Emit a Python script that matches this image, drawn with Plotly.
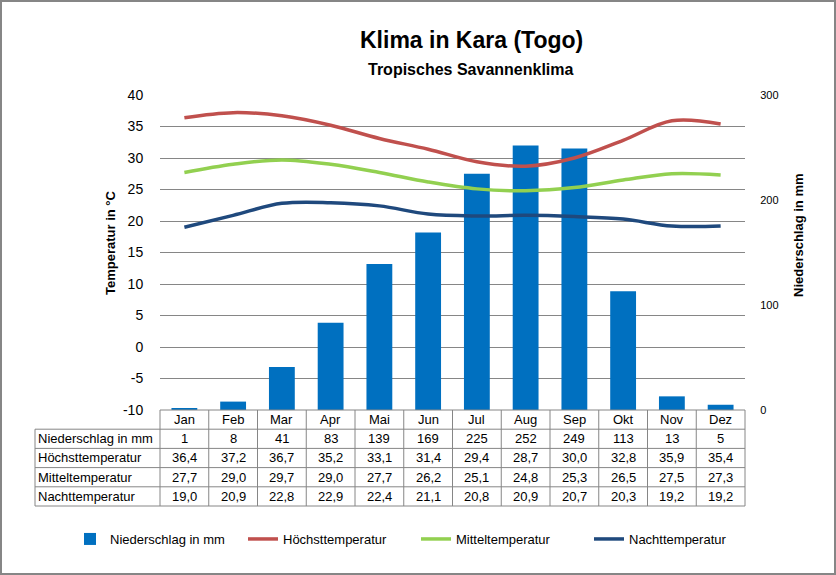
import plotly.graph_objects as go

months = ["Jan", "Feb", "Mar", "Apr", "Mai", "Jun", "Jul", "Aug", "Sep", "Okt", "Nov", "Dez"]
niederschlag = [1, 8, 41, 83, 139, 169, 225, 252, 249, 113, 13, 5]
hoechst = [36.4, 37.2, 36.7, 35.2, 33.1, 31.4, 29.4, 28.7, 30.0, 32.8, 35.9, 35.4]
mittel = [27.7, 29.0, 29.7, 29.0, 27.7, 26.2, 25.1, 24.8, 25.3, 26.5, 27.5, 27.3]
nacht = [19.0, 20.9, 22.8, 22.9, 22.4, 21.1, 20.8, 20.9, 20.7, 20.3, 19.2, 19.2]
temp_ticks = list(range(-10, 45, 5))
rain_ticks = [0, 100, 200, 300]
row_labels = ["Niederschlag in mm", "Höchsttemperatur", "Mitteltemperatur", "Nachttemperatur"]

W, H = 836, 575
ML, MR, MT, MB = 160, 91, 95, 165
PW, PH = W - ML - MR, H - MT - MB
FONT = "Liberation Sans, Arial, sans-serif"

def px_x(px):
    return (px - ML) / PW

def px_y(py):
    return (H - MB - py) / PH

def fmt(v):
    return f"{v:.1f}".replace(".", ",")

fig = go.Figure()
fig.add_trace(go.Bar(x=months, y=niederschlag, name="Niederschlag in mm",
                     marker=dict(color="#0070C0", line=dict(width=0)), width=0.53, yaxis="y"))
fig.add_trace(go.Scatter(x=months, y=hoechst, name="Höchsttemperatur", mode="lines",
                         line=dict(color="#C0504D", width=3.5, shape="spline", smoothing=1), yaxis="y2"))
fig.add_trace(go.Scatter(x=months, y=mittel, name="Mitteltemperatur", mode="lines",
                         line=dict(color="#92D050", width=3.5, shape="spline", smoothing=1), yaxis="y2"))
fig.add_trace(go.Scatter(x=months, y=nacht, name="Nachttemperatur", mode="lines",
                         line=dict(color="#1F497D", width=3.5, shape="spline", smoothing=1), yaxis="y2"))

shapes = []
gray = "#868686"
n = len(months)
row_h = 19.2
top = H - MB
shapes.append(dict(type="line", xref="paper", yref="paper", x0=0, x1=1,
                   y0=px_y(top), y1=px_y(top), line=dict(color=gray, width=1)))
for r in range(1, len(row_labels) + 2):
    yy = px_y(top + r * row_h)
    shapes.append(dict(type="line", xref="paper", yref="paper", x0=px_x(35), x1=1,
                       y0=yy, y1=yy, line=dict(color=gray, width=1)))
shapes.append(dict(type="line", xref="paper", yref="paper", x0=px_x(35), x1=px_x(35),
                   y0=px_y(top + row_h), y1=px_y(top + 5 * row_h), line=dict(color=gray, width=1)))
for i in range(n + 1):
    xx = i / n
    shapes.append(dict(type="line", xref="paper", yref="paper", x0=xx, x1=xx,
                       y0=px_y(top), y1=px_y(top + 5 * row_h), line=dict(color=gray, width=1)))
shapes.append(dict(type="rect", xref="paper", yref="paper",
                   x0=px_x(1), x1=px_x(W - 1), y0=px_y(H - 1), y1=px_y(1),
                   line=dict(color=gray, width=2)))

annotations = []
tfont = dict(family=FONT, size=13, color="black")
rows = [
    [str(v) for v in niederschlag],
    [fmt(v) for v in hoechst],
    [fmt(v) for v in mittel],
    [fmt(v) for v in nacht],
]
for i, m in enumerate(months):
    annotations.append(dict(x=m, xref="x", y=px_y(top + 0.5 * row_h), yref="paper",
                            text=m, showarrow=False, font=tfont, xanchor="center", yanchor="middle"))
    for r, vals in enumerate(rows):
        annotations.append(dict(x=m, xref="x", y=px_y(top + (r + 1.5) * row_h), yref="paper",
                                text=vals[i], showarrow=False, font=tfont, xanchor="center", yanchor="middle"))
for r, lab in enumerate(row_labels):
    annotations.append(dict(x=px_x(36), xref="paper", y=px_y(top + (r + 1.5) * row_h), yref="paper",
                            text=lab, showarrow=False, font=tfont, xanchor="left", yanchor="middle"))

annotations.append(dict(x=px_x(471), xref="paper", y=px_y(40), yref="paper",
                        text="<b>Klima in Kara (Togo)</b>", showarrow=False,
                        font=dict(family=FONT, size=23, color="black"), xanchor="center", yanchor="middle"))
annotations.append(dict(x=px_x(471), xref="paper", y=px_y(69), yref="paper",
                        text="<b>Tropisches Savannenklima</b>", showarrow=False,
                        font=dict(family=FONT, size=16, color="black"), xanchor="center", yanchor="middle"))
annotations.append(dict(x=px_x(110), xref="paper", y=px_y(243), yref="paper",
                        text="<b>Temperatur in °C</b>", showarrow=False, textangle=-90,
                        font=dict(family=FONT, size=13, color="black"), xanchor="center", yanchor="middle"))
annotations.append(dict(x=px_x(798), xref="paper", y=px_y(235), yref="paper",
                        text="<b>Niederschlag in mm</b>", showarrow=False, textangle=-90,
                        font=dict(family=FONT, size=13, color="black"), xanchor="center", yanchor="middle"))

fig.update_layout(
    width=W, height=H,
    margin=dict(l=ML, r=MR, t=MT, b=MB),
    paper_bgcolor="white", plot_bgcolor="white",
    font=dict(family=FONT, color="black"),
    showlegend=True,
    legend=dict(orientation="h", xref="paper", yref="paper",
                x=px_x(70), xanchor="left", y=px_y(539), yanchor="middle",
                font=dict(family=FONT, size=13, color="black"), traceorder="normal",
                itemwidth=30, entrywidth=128, entrywidthmode="pixels"),
    xaxis=dict(type="category", range=[-0.5, n - 0.5], showticklabels=False, showgrid=False,
               zeroline=False, showline=False, ticks=""),
    yaxis=dict(side="right", range=[0, 300], tickvals=rain_ticks, showgrid=False, zeroline=False,
               showline=False, ticks="outside", ticklen=12, tickcolor="rgba(0,0,0,0)",
               tickfont=dict(family=FONT, size=11, color="black")),
    yaxis2=dict(side="left", overlaying="y", range=[-10, 40], tickvals=temp_ticks,
                ticktext=[str(t) for t in temp_ticks], showgrid=True,
                gridcolor=gray, gridwidth=1, zeroline=False, showline=False, ticks="outside",
                ticklen=13, tickcolor="rgba(0,0,0,0)",
                tickfont=dict(family=FONT, size=14, color="black")),
    shapes=shapes,
    annotations=annotations,
)

fig.write_html("out.html", config={"displayModeBar": False},
               post_script="document.body.style.margin='0';document.body.style.overflow='hidden';")
